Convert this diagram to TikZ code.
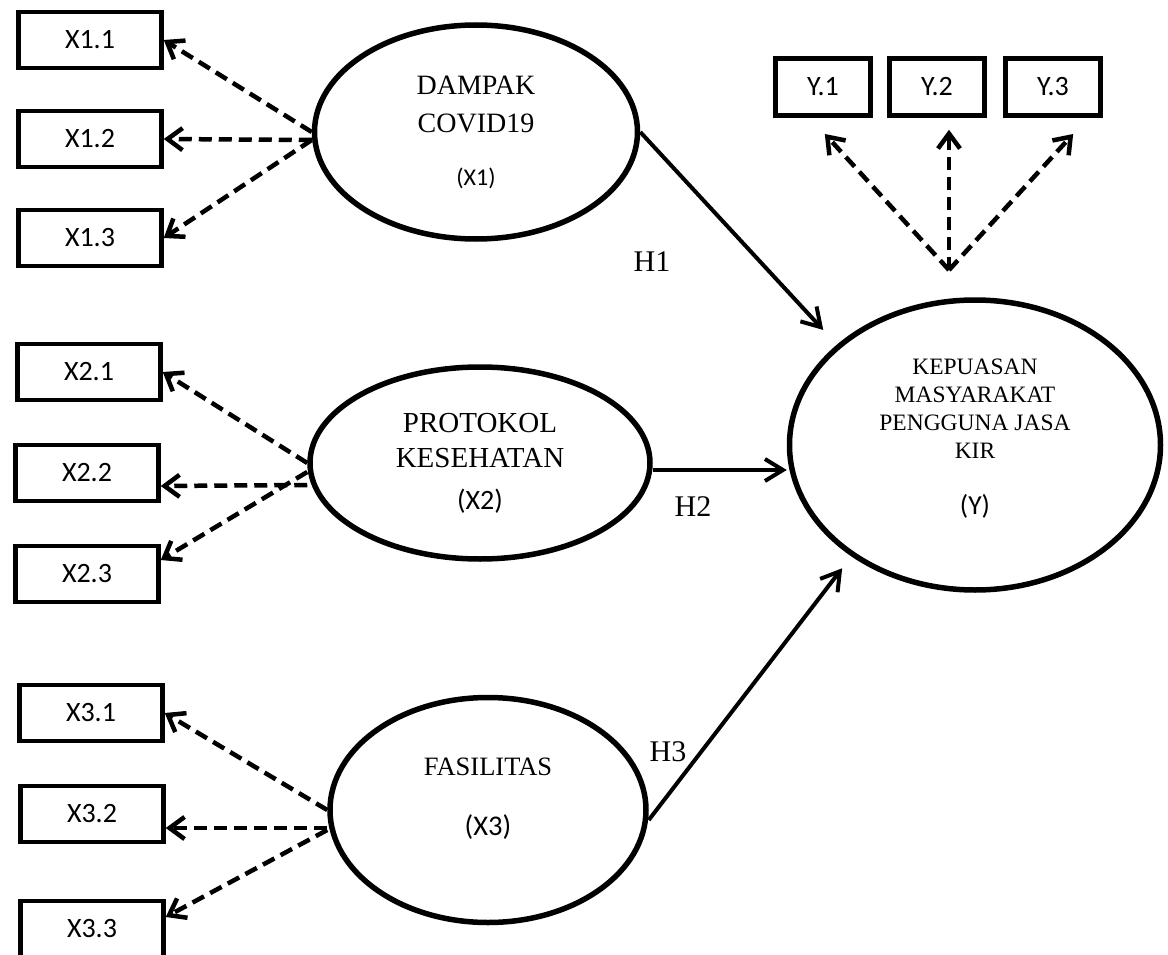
\documentclass[tikz,border=0pt]{standalone}
\usepackage{fontspec}
\setmainfont{Liberation Serif}
\setsansfont{Carlito}
\usetikzlibrary{shapes.geometric,arrows.meta}

\begin{document}
\begin{tikzpicture}[
  x=1pt, y=-1pt,
  ind/.style={draw, line width=4.5pt, minimum width=143pt, minimum height=56pt, inner sep=0pt, font=\sffamily\fontsize{28}{32}\selectfont},
  indy/.style={ind, minimum width=95pt, minimum height=57pt},
  lat/.style={draw, ellipse, line width=5.5pt, inner sep=0pt, align=center},
  load/.style={line width=4.5pt, dash pattern=on 13pt off 7pt, -{Straight Barb[length=15pt,width=22pt]}},
  reg/.style={line width=4pt, -{Straight Barb[length=18pt,width=22pt]}},
  hyp/.style={font=\fontsize{30}{34}\selectfont}
]
\useasboundingbox (0,0) rectangle (1168,955);
% indicators
\node[ind] (x11) at (90,40)  {X1.1};
\node[ind] (x12) at (90,139) {X1.2};
\node[ind] (x13) at (90,238) {X1.3};
\node[ind] (x21) at (89,372) {X2.1};
\node[ind] (x22) at (87,473) {X2.2};
\node[ind] (x23) at (87,574) {X2.3};
\node[ind] (x31) at (91,713) {X3.1};
\node[ind] (x32) at (92,814) {X3.2};
\node[ind] (x33) at (92,929) {X3.3};
\node[indy] (y1) at (823,87)  {Y.1};
\node[indy] (y2) at (937,87)  {Y.2};
\node[indy] (y3) at (1053,87) {Y.3};
% latent variables
\node[lat, minimum width=323pt, minimum height=214pt, font=\fontsize{28}{38}\selectfont] (x1) at (476,132)
  {DAMPAK\\COVID19\\[15pt]{\sffamily\fontsize{24}{26}\selectfont(X1)}};
\node[lat, minimum width=340pt, minimum height=192pt, font=\fontsize{29}{35}\selectfont] (x2) at (480,463)
  {PROTOKOL\\KESEHATAN\\[7pt]{\sffamily\fontsize{28}{30}\selectfont(X2)}};
\node[lat, minimum width=316pt, minimum height=225pt, text depth=26pt, font=\fontsize{26.5}{32}\selectfont] (x3) at (488,810)
  {FASILITAS\\[28pt]{\sffamily\fontsize{28.5}{30}\selectfont(X3)}};
\node[lat, minimum width=371pt, minimum height=290pt, text depth=16pt, font=\fontsize{23.5}{28}\selectfont] (y) at (975,445)
  {KEPUASAN\\MASYARAKAT\\PENGGUNA JASA\\KIR\\[28pt]{\sffamily\fontsize{27.5}{30}\selectfont(Y)}};
% hypotheses
\node[hyp] (h1) at (652,262) {H1};
\node[hyp] (h2) at (693,507) {H2};
\node[hyp] (h3) at (668,752) {H3};
\draw[reg, shorten >=20pt] (x1.east) -- (y.144);
\draw[reg] ([yshift=-7pt]x2.east) -- ([yshift=-7pt]x2.east -| y.west);
\draw[reg, shorten >=15pt] ([yshift=-10pt]x3.east) -- (y.222);
% loadings
\draw[load] (x1.west) -- (x11.east);
\draw[load] ([yshift=-8pt]x1.west) -- (x12.east);
\draw[load] ([yshift=-8pt]x1.west) -- (x13.east);
\draw[load] (x2.west) -- (x21.east);
\draw[load] ([yshift=-22pt]x2.west) -- ([yshift=-13pt]x22.east);
\draw[load] ([yshift=-9pt]x2.west) -- ([yshift=14pt]x23.east);
\draw[load] (x3.west) -- (x31.east);
\draw[load] ([yshift=-18pt]x3.west) -- ([yshift=-14pt]x32.east);
\draw[load] ([yshift=-20pt]x3.west) -- ([yshift=12pt]x33.east);
\coordinate (yo) at (949,270);
\draw[load, shorten >=22pt] (yo) -- ([xshift=-13pt]y1.south);
\draw[load, shorten >=12pt] (yo) -- (yo |- y2.south);
\draw[load, shorten >=22pt] (yo) -- ([xshift=35pt]y3.south);
\end{tikzpicture}
\end{document}
